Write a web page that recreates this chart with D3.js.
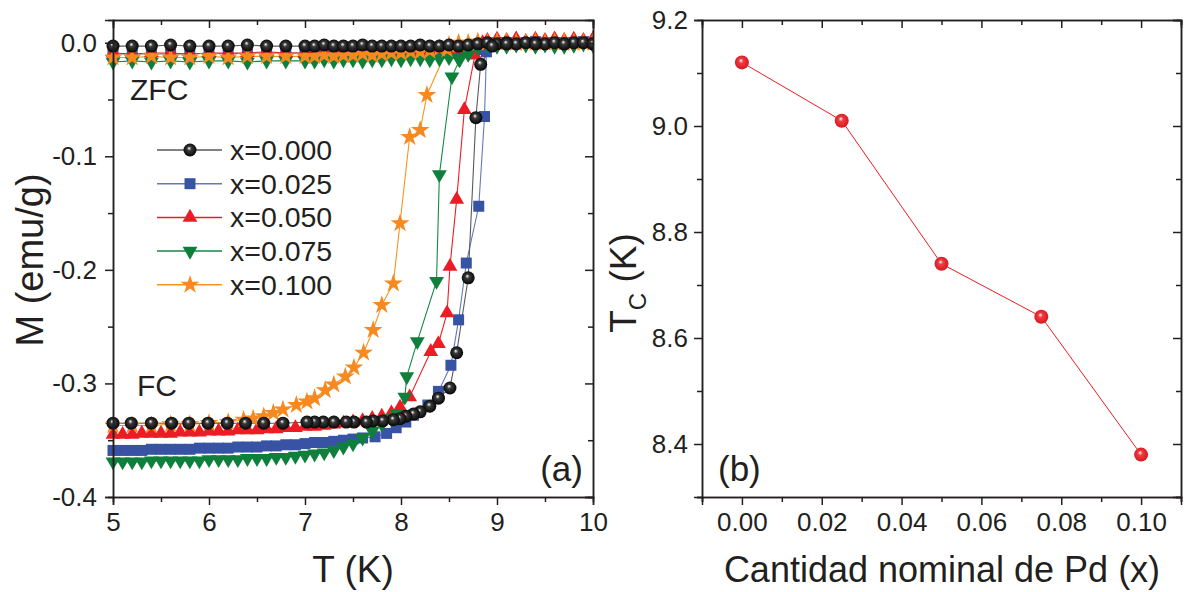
<!DOCTYPE html>
<html>
<head>
<meta charset="utf-8">
<script src="https://cdn.jsdelivr.net/npm/d3@7"></script>
<style>
  body { margin: 0; background: #fff; }
  text { font-family: "Liberation Sans", Arial, sans-serif; fill: #231f20; }
  .domain, .tick line { stroke: #231f20; stroke-width: 1.5; }
</style>
</head>
<body>
<svg id="chart" width="1188" height="592"></svg>
<script>
// ZFC temperatures (shared by every sample)
var zfcT = [5.0, 5.2, 5.4, 5.6, 5.8, 6.0, 6.2, 6.4, 6.6, 6.8,
  7.0, 7.1, 7.2, 7.3, 7.4, 7.5, 7.6, 7.7, 7.8, 7.9,
  8.0, 8.1, 8.2, 8.3, 8.4, 8.5, 8.6, 8.7, 8.8, 8.9,
  9.0, 9.1, 9.2, 9.3, 9.4, 9.5, 9.6, 9.7, 9.8, 9.9, 10.0];

var zfc000 = [-0.003, -0.003, -0.003, -0.002, -0.003, -0.003, -0.003, -0.002, -0.003, -0.003,
  -0.003, -0.003, -0.002, -0.003, -0.003, -0.003, -0.002, -0.003, -0.003, -0.003,
  -0.003, -0.003, -0.002, -0.003, -0.003, -0.002, -0.003, -0.002, -0.001, 0.000,
  -0.001, 0.000, -0.001, 0.000, 0.000, -0.001, 0.000, -0.001, 0.000, 0.000, -0.001];
var zfc025 = [-0.010, -0.010, -0.010, -0.010, -0.010, -0.009, -0.010, -0.009, -0.009, -0.009,
  -0.009, -0.009, -0.009, -0.009, -0.009, -0.009, -0.008, -0.009, -0.008, -0.008,
  -0.008, -0.008, -0.008, -0.008, -0.008, -0.007, -0.007, -0.007, -0.006, -0.002,
  0.000, 0.000, -0.001, 0.000, 0.001, 0.000, 0.000, -0.001, 0.000, 0.001, 0.000];
var zfc050 = [-0.009, -0.010, -0.009, -0.009, -0.010, -0.009, -0.009, -0.009, -0.008, -0.009,
  -0.009, -0.008, -0.009, -0.008, -0.008, -0.009, -0.008, -0.008, -0.008, -0.007,
  -0.008, -0.007, -0.007, -0.007, -0.006, -0.006, -0.005, -0.004, -0.001, 0.002,
  0.003, 0.002, 0.003, 0.001, 0.003, 0.002, 0.003, 0.002, 0.003, 0.002, 0.003];
var zfc075 = [-0.017, -0.016, -0.017, -0.016, -0.017, -0.016, -0.016, -0.017, -0.016, -0.016,
  -0.016, -0.016, -0.015, -0.016, -0.015, -0.015, -0.016, -0.015, -0.015, -0.014,
  -0.015, -0.014, -0.014, -0.015, -0.014, -0.013, -0.014, -0.010, -0.004, -0.002,
  -0.002, -0.003, -0.001, -0.002, -0.003, -0.002, -0.002, -0.003, -0.002, -0.001, -0.002];
var zfc100 = [-0.013, -0.013, -0.012, -0.013, -0.013, -0.012, -0.013, -0.012, -0.012, -0.012,
  -0.012, -0.012, -0.011, -0.012, -0.011, -0.011, -0.010, -0.011, -0.010, -0.009,
  -0.009, -0.008, -0.008, -0.007, -0.005, -0.002, 0.000, 0.000, 0.001, 0.000,
  0.000, 0.001, 0.000, 0.000, 0.001, 0.000, 0.000, 0.001, 0.000, 0.000, 0.001];

// FC branches, [T (K), M (emu/g)], measured on cooling
var fc000 = [[10.0, -0.001], [9.7, -0.001], [9.4, -0.001], [9.1, -0.001], [8.95, -0.003],
  [8.83, -0.019], [8.78, -0.066], [8.70, -0.207], [8.58, -0.273], [8.51, -0.304],
  [8.39, -0.313], [8.30, -0.320], [8.20, -0.325], [8.13, -0.327], [8.05, -0.329],
  [7.99, -0.331], [7.92, -0.332], [7.81, -0.333], [7.71, -0.333], [7.64, -0.334],
  [7.51, -0.334], [7.43, -0.334], [7.30, -0.334], [7.19, -0.334], [7.10, -0.334],
  [7.02, -0.334], [6.77, -0.335], [6.57, -0.335], [6.38, -0.335], [6.19, -0.335],
  [5.99, -0.335], [5.79, -0.335], [5.61, -0.335], [5.40, -0.335], [5.19, -0.335], [5.00, -0.335]];
var fc025 = [[10.0, 0.000], [9.7, 0.000], [9.4, 0.000], [9.1, -0.001], [8.95, -0.002],
  [8.89, -0.008], [8.87, -0.065], [8.81, -0.144], [8.68, -0.194], [8.60, -0.244],
  [8.52, -0.284], [8.39, -0.307], [8.28, -0.319], [8.13, -0.328], [8.05, -0.334],
  [7.95, -0.339], [7.85, -0.344], [7.73, -0.347], [7.6, -0.348], [7.5, -0.349],
  [7.4, -0.350], [7.3, -0.351], [7.2, -0.352], [7.1, -0.352], [7.0, -0.353],
  [6.9, -0.354], [6.8, -0.354], [6.7, -0.355], [6.6, -0.355], [6.5, -0.356],
  [6.4, -0.356], [6.3, -0.356], [6.2, -0.357], [6.1, -0.357], [6.0, -0.357],
  [5.9, -0.357], [5.8, -0.358], [5.7, -0.358], [5.6, -0.358], [5.5, -0.358],
  [5.4, -0.358], [5.3, -0.359], [5.2, -0.359], [5.1, -0.359], [5.0, -0.359]];
var fc050 = [[10.0, 0.003], [9.8, 0.002], [9.6, 0.003], [9.4, 0.002], [9.2, 0.003],
  [9.0, 0.002], [8.85, 0.000], [8.77, -0.011], [8.66, -0.059], [8.58, -0.138],
  [8.51, -0.197], [8.48, -0.238], [8.39, -0.265], [8.31, -0.272], [8.09, -0.312],
  [7.99, -0.321], [7.9, -0.326], [7.8, -0.329], [7.7, -0.331], [7.6, -0.333],
  [7.5, -0.334], [7.4, -0.335], [7.3, -0.336], [7.2, -0.337], [7.1, -0.338],
  [7.0, -0.338], [6.9, -0.339], [6.8, -0.339], [6.7, -0.340], [6.6, -0.340],
  [6.5, -0.341], [6.4, -0.341], [6.3, -0.341], [6.2, -0.342], [6.1, -0.342],
  [6.0, -0.342], [5.9, -0.343], [5.8, -0.343], [5.7, -0.343], [5.6, -0.344],
  [5.5, -0.344], [5.4, -0.344], [5.3, -0.344], [5.2, -0.345], [5.1, -0.345], [5.0, -0.345]];
var fc075 = [[10.0, -0.002], [9.8, -0.002], [9.6, -0.003], [9.4, -0.002], [9.2, -0.002],
  [9.0, -0.003], [8.8, -0.004], [8.70, -0.010], [8.61, -0.015], [8.53, -0.030],
  [8.40, -0.116], [8.37, -0.210], [8.17, -0.263], [8.06, -0.294], [8.04, -0.312],
  [7.96, -0.327], [7.9, -0.331], [7.8, -0.336], [7.7, -0.342], [7.6, -0.348],
  [7.5, -0.353], [7.4, -0.356], [7.3, -0.359], [7.2, -0.361], [7.1, -0.362],
  [7.0, -0.363], [6.9, -0.364], [6.8, -0.365], [6.7, -0.365], [6.6, -0.366],
  [6.5, -0.366], [6.4, -0.366], [6.3, -0.367], [6.2, -0.367], [6.1, -0.367],
  [6.0, -0.367], [5.9, -0.368], [5.8, -0.368], [5.7, -0.368], [5.6, -0.368],
  [5.5, -0.368], [5.4, -0.368], [5.3, -0.369], [5.2, -0.369], [5.1, -0.369], [5.0, -0.369]];
var fc100 = [[10.0, 0.000], [9.8, 0.000], [9.6, 0.001], [9.4, 0.000], [9.2, 0.000],
  [9.0, 0.001], [8.8, 0.000], [8.6, -0.001], [8.48, -0.006], [8.27, -0.046],
  [8.20, -0.077], [8.09, -0.083], [7.99, -0.159], [7.92, -0.212], [7.80, -0.231],
  [7.71, -0.253], [7.61, -0.273], [7.51, -0.286], [7.42, -0.294], [7.30, -0.301],
  [7.21, -0.306], [7.10, -0.313], [7.02, -0.316], [6.91, -0.319], [6.77, -0.323],
  [6.67, -0.326], [6.57, -0.329], [6.46, -0.331], [6.36, -0.332], [6.2, -0.334],
  [6.0, -0.335], [5.8, -0.336], [5.6, -0.336], [5.4, -0.337], [5.2, -0.337], [5.0, -0.337]];

var sampleLabels = ["x=0.000", "x=0.025", "x=0.050", "x=0.075", "x=0.100"];

// panel (b): Tc against nominal Pd content
var pdContent = [0.000, 0.025, 0.050, 0.075, 0.100];
var tcValues = [9.12, 9.01, 8.74, 8.64, 8.38];

var ink = "#231f20";
var svg = d3.select("#chart");

var defs = svg.append("defs");
function ballGradient(id, hi, mid, dark) {
  var g = defs.append("radialGradient").attr("id", id)
    .attr("cx", "50%").attr("cy", "50%").attr("r", "55%")
    .attr("fx", "42%").attr("fy", "35%");
  g.append("stop").attr("offset", "0%").attr("stop-color", hi);
  g.append("stop").attr("offset", "30%").attr("stop-color", mid);
  g.append("stop").attr("offset", "100%").attr("stop-color", dark);
}
ballGradient("ballBlack", "#ffffff", "#3a3a3a", "#000000");
ballGradient("ballRed", "#ffffff", "#f23a41", "#d0161d");

function zip(ts, ms) { return ts.map(function (t, i) { return [t, ms[i]]; }); }

var samples = [
  { label: sampleLabels[0], zfc: zip(zfcT, zfc000), fc: fc000, line: "#58595b", fill: "url(#ballBlack)", shape: "ball" },
  { label: sampleLabels[1], zfc: zip(zfcT, zfc025), fc: fc025, line: "#6479bd", fill: "#3853a4", shape: "square" },
  { label: sampleLabels[2], zfc: zip(zfcT, zfc050), fc: fc050, line: "#ed1c24", fill: "#ed1c24", shape: "up" },
  { label: sampleLabels[3], zfc: zip(zfcT, zfc075), fc: fc075, line: "#138a43", fill: "#0f7f3c", shape: "down" },
  { label: sampleLabels[4], zfc: zip(zfcT, zfc100), fc: fc100, line: "#f7941d", fill: "#f6891f", shape: "star" }
];

function marker(sel, s) {
  if (s.shape === "ball") {
    sel.append("circle").attr("r", 6.5).attr("fill", s.fill);
  } else if (s.shape === "square") {
    sel.append("path").attr("d", d3.symbol().type(d3.symbolSquare).size(121)).attr("fill", s.fill);
  } else if (s.shape === "up") {
    sel.append("path").attr("d", d3.symbol().type(d3.symbolTriangle).size(95)).attr("fill", s.fill);
  } else if (s.shape === "down") {
    sel.append("path").attr("d", d3.symbol().type(d3.symbolTriangle).size(95))
      .attr("transform", "rotate(180)").attr("fill", s.fill);
  } else {
    sel.append("path").attr("d", d3.symbol().type(d3.symbolStar).size(110)).attr("fill", s.fill);
  }
}

function frame(g, x, y, xMajor, xMinor, yMajor, yMinor, xFmt, yFmt, yPad) {
  var w = x.range()[1], h = y.range()[0];
  g.append("g").attr("transform", "translate(0," + h + ")")
    .call(d3.axisBottom(x).tickValues(xMinor).tickSize(5).tickFormat(""));
  g.append("g").attr("transform", "translate(0," + h + ")")
    .call(d3.axisBottom(x).tickValues(xMajor).tickSize(8).tickPadding(8).tickFormat(xFmt));
  g.append("g").call(d3.axisTop(x).tickValues(xMinor).tickSize(-5).tickFormat(""));
  g.append("g").call(d3.axisTop(x).tickValues(xMajor).tickSize(-8).tickFormat(""));
  g.append("g").call(d3.axisLeft(y).tickValues(yMinor).tickSize(5).tickFormat(""));
  g.append("g").call(d3.axisLeft(y).tickValues(yMajor).tickSize(8).tickPadding(yPad).tickFormat(yFmt));
  g.append("g").attr("transform", "translate(" + w + ",0)")
    .call(d3.axisRight(y).tickValues(yMinor).tickSize(-5).tickFormat(""));
  g.append("g").attr("transform", "translate(" + w + ",0)")
    .call(d3.axisRight(y).tickValues(yMajor).tickSize(-8).tickFormat(""));
  g.selectAll(".tick text").attr("font-size", 26).attr("fill", ink)
    .attr("font-family", "Liberation Sans, Arial, sans-serif");
  g.selectAll(".domain").attr("stroke", ink).attr("stroke-width", 1.5);
  g.selectAll(".tick line").attr("stroke", ink).attr("stroke-width", 1.5);
}

// ---------- panel (a) ----------
var wA = 480, hA = 477;
var ga = svg.append("g").attr("transform", "translate(113,20)");
var xa = d3.scaleLinear().domain([5, 10]).range([0, wA]);
var ya = d3.scaleLinear().domain([-0.4, 0.02]).range([hA, 0]);

var clip = defs.append("clipPath").attr("id", "clipA");
clip.append("rect").attr("x", -8).attr("y", 0).attr("width", wA + 8).attr("height", hA + 8);

var plotA = ga.append("g").attr("clip-path", "url(#clipA)");
var lineA = d3.line().x(function (d) { return xa(d[0]); }).y(function (d) { return ya(d[1]); });

var drawOrder = [1, 2, 3, 4, 0];
drawOrder.forEach(function (i) {
  var s = samples[i];
  var pts = s.zfc.concat(s.fc);
  plotA.append("path").datum(pts).attr("d", lineA)
    .attr("fill", "none").attr("stroke", s.line).attr("stroke-width", 1.1);
});
drawOrder.forEach(function (i) {
  var s = samples[i];
  var pts = s.zfc.concat(s.fc);
  plotA.append("g").selectAll("g").data(pts).enter().append("g")
    .attr("transform", function (d) { return "translate(" + xa(d[0]) + "," + ya(d[1]) + ")"; })
    .each(function () { marker(d3.select(this), s); });
});

frame(ga, xa, ya, [5, 6, 7, 8, 9, 10], [5.5, 6.5, 7.5, 8.5, 9.5],
  [0, -0.1, -0.2, -0.3, -0.4], [-0.05, -0.15, -0.25, -0.35],
  function (d) { return d3.format("d")(d); },
  function (d) { return d.toFixed(1); }, 8);

// legend
var leg = ga.append("g").attr("transform", "translate(44,130)");
samples.forEach(function (s, i) {
  var row = leg.append("g").attr("transform", "translate(0," + (i * 33.7) + ")");
  row.append("line").attr("x1", 0).attr("x2", 65).attr("y1", 0).attr("y2", 0)
    .attr("stroke", s.line).attr("stroke-width", 1.5);
  marker(row.append("g").attr("transform", "translate(33,0)"), s);
  row.append("text").attr("x", 73).attr("y", 10).attr("font-size", 28.5).text(s.label);
});

ga.append("text").attr("x", 17).attr("y", 80).attr("font-size", 30).text("ZFC");
ga.append("text").attr("x", 24).attr("y", 376).attr("font-size", 30).text("FC");
ga.append("text").attr("x", wA - 10).attr("y", 461).attr("font-size", 35)
  .attr("text-anchor", "end").text("(a)");

svg.append("text").attr("x", 353).attr("y", 582).attr("font-size", 37)
  .attr("text-anchor", "middle").text("T (K)");
svg.append("text").attr("transform", "translate(43,260) rotate(-90)")
  .attr("font-size", 38).attr("text-anchor", "middle").text("M (emu/g)");

// ---------- panel (b) ----------
var gb = svg.append("g").attr("transform", "translate(702,20)");
var xb = d3.scaleLinear().domain([-0.01, 0.11]).range([0, 479]);
var yb = d3.scaleLinear().domain([8.3, 9.2]).range([hA, 0]);

var tcData = pdContent.map(function (p, i) { return [p, tcValues[i]]; });
gb.append("path").datum(tcData)
  .attr("d", d3.line().x(function (d) { return xb(d[0]); }).y(function (d) { return yb(d[1]); }))
  .attr("fill", "none").attr("stroke", "#ed1c24").attr("stroke-width", 1);
gb.selectAll("circle.tc").data(tcData).enter().append("circle").attr("class", "tc")
  .attr("cx", function (d) { return xb(d[0]); })
  .attr("cy", function (d) { return yb(d[1]); })
  .attr("r", 7).attr("fill", "url(#ballRed)");

frame(gb, xb, yb, [0, 0.02, 0.04, 0.06, 0.08, 0.10], [-0.01, 0.01, 0.03, 0.05, 0.07, 0.09, 0.11],
  [8.4, 8.6, 8.8, 9.0, 9.2], [8.3, 8.5, 8.7, 8.9, 9.1],
  function (d) { return d.toFixed(2); },
  function (d) { return d.toFixed(1); }, 6);

gb.append("text").attr("x", 16).attr("y", 461).attr("font-size", 35).text("(b)");

svg.append("text").attr("x", 942).attr("y", 582).attr("font-size", 36)
  .attr("text-anchor", "middle").text("Cantidad nominal de Pd (x)");

var tcTitle = svg.append("text").attr("transform", "translate(636,283) rotate(-90)")
  .attr("font-size", 37).attr("text-anchor", "middle");
tcTitle.append("tspan").text("T");
tcTitle.append("tspan").attr("font-size", 24).attr("dy", 10).text("C");
tcTitle.append("tspan").attr("dy", -10).text(" (K)");
</script>
</body>
</html>
